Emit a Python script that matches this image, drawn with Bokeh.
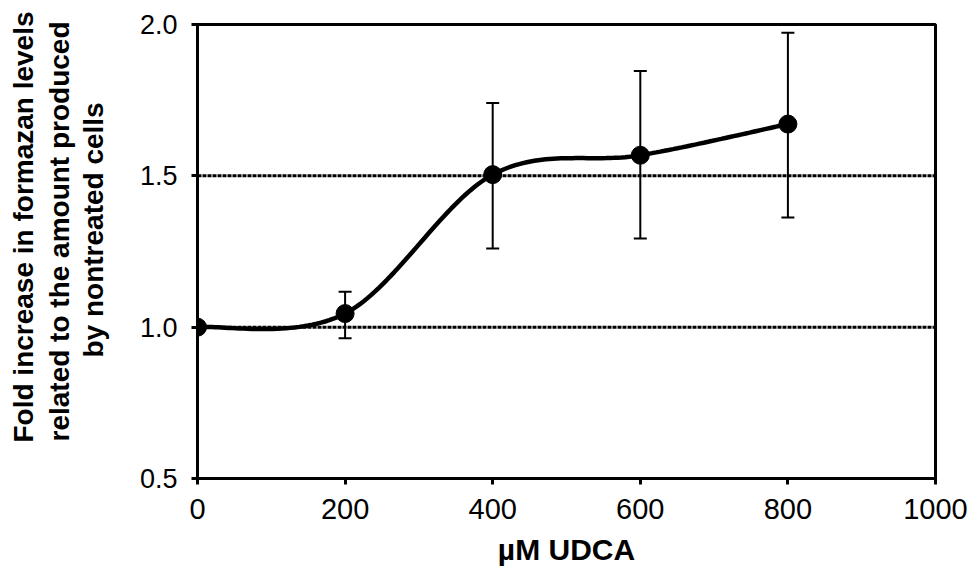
import numpy as np
from bokeh.plotting import figure
from bokeh.models import (ColumnDataSource, Whisker, TeeHead, FixedTicker,
                          PrintfTickFormatter, Range1d, Span, Title)
from bokeh.embed import file_html
from bokeh.resources import INLINE

# ---- data ----
udca = [0, 200, 400, 600, 800]
fold = [1.00, 1.045, 1.504, 1.568, 1.671]
err_upper = [1.00, 1.117, 1.741, 1.846, 1.973]
err_lower = [1.00, 0.963, 1.26, 1.293, 1.362]
x_ticks = [0, 200, 400, 600, 800, 1000]
y_ticks = [0.5, 1.0, 1.5, 2.0]
ref_levels = [1.0, 1.5]
y_title_lines = ["Fold increase in formazan levels",
                 "related to the amount produced",
                 "by nontreated cells"]
x_title = "µM UDCA"

# ---- Excel-style smoothed line (cubic Bezier, tangent (P[i+1]-P[i-1])/6) ----
def smooth(xs, ys, n=40):
    P = np.column_stack([xs, ys]).astype(float)
    m = len(P)
    out = [P[0]]
    for i in range(m - 1):
        p0 = P[i - 1] if i > 0 else P[i]
        p1 = P[i]
        p2 = P[i + 1]
        p3 = P[i + 2] if i + 2 < m else P[i + 1]
        c1 = p1 + (p2 - p0) / 6.0
        c2 = p2 - (p3 - p1) / 6.0
        t = np.linspace(0, 1, n)[1:, None]
        seg = ((1 - t) ** 3) * p1 + 3 * ((1 - t) ** 2) * t * c1 + 3 * (1 - t) * t ** 2 * c2 + t ** 3 * p2
        out.extend(seg)
    out = np.array(out)
    return out[:, 0], out[:, 1]

sx, sy = smooth(udca, fold)

p = figure(width=973, height=568, output_backend="svg", toolbar_location=None,
           x_range=Range1d(0, 1000), y_range=Range1d(0.5, 2.0),
           min_border_left=197, min_border_right=38, min_border_top=24,
           min_border_bottom=90)
p.background_fill_color = "white"
p.border_fill_color = "white"
p.outline_line_color = "black"
p.outline_line_width = 3
p.xgrid.visible = False
p.ygrid.visible = False

for lv in ref_levels:
    p.add_layout(Span(location=lv, dimension="width", line_color="black",
                      line_width=3, line_dash="4 1"))

src = ColumnDataSource(dict(x=udca, y=fold, upper=err_upper, lower=err_lower))
p.add_layout(Whisker(base="x", upper="upper", lower="lower", source=src,
                     line_color="black", line_width=2,
                     upper_head=TeeHead(size=13, line_width=2, line_color="black"),
                     lower_head=TeeHead(size=13, line_width=2, line_color="black")))

p.line(sx, sy, line_color="black", line_width=4.5)
p.scatter("x", "y", source=src, size=18, color="black")

font = "Liberation Sans"
p.xaxis.ticker = FixedTicker(ticks=x_ticks)
p.yaxis.ticker = FixedTicker(ticks=y_ticks)
p.yaxis.formatter = PrintfTickFormatter(format="%.1f")
for ax in (p.xaxis, p.yaxis):
    ax.axis_line_width = 3
    ax.axis_line_color = "black"
    ax.major_tick_line_width = 3
    ax.major_tick_line_color = "black"
    ax.major_tick_in = 0
    ax.major_tick_out = 6
    ax.minor_tick_line_color = None
    ax.major_label_text_font = font
    ax.major_label_text_color = "black"
    ax.axis_label_text_font = font
    ax.axis_label_text_font_style = "bold"
    ax.axis_label_text_color = "black"

p.xaxis.major_label_text_font_size = "29px"
p.yaxis.major_label_text_font_size = "27px"
p.xaxis.major_label_standoff = 14
p.yaxis.major_label_standoff = 14

p.xaxis.axis_label = x_title
p.xaxis.axis_label_text_font_size = "30px"
p.xaxis.axis_label_standoff = 11

# spacer between tick labels and the y title block
p.add_layout(Title(text=" ", standoff=24, text_font_size="1px"), "left")

# y-axis title: three stacked titles in the left panel (innermost first)
standoffs = [1, 1, 6]
offsets = [121, 37, 36]
for txt, so, off in zip(reversed(y_title_lines), standoffs, offsets):
    p.add_layout(Title(text=txt, align="left", offset=off, standoff=so,
                       text_font=font, text_font_style="bold",
                       text_font_size="28px", text_color="black"), "left")

open("out.html", "w").write(file_html(p, INLINE))
